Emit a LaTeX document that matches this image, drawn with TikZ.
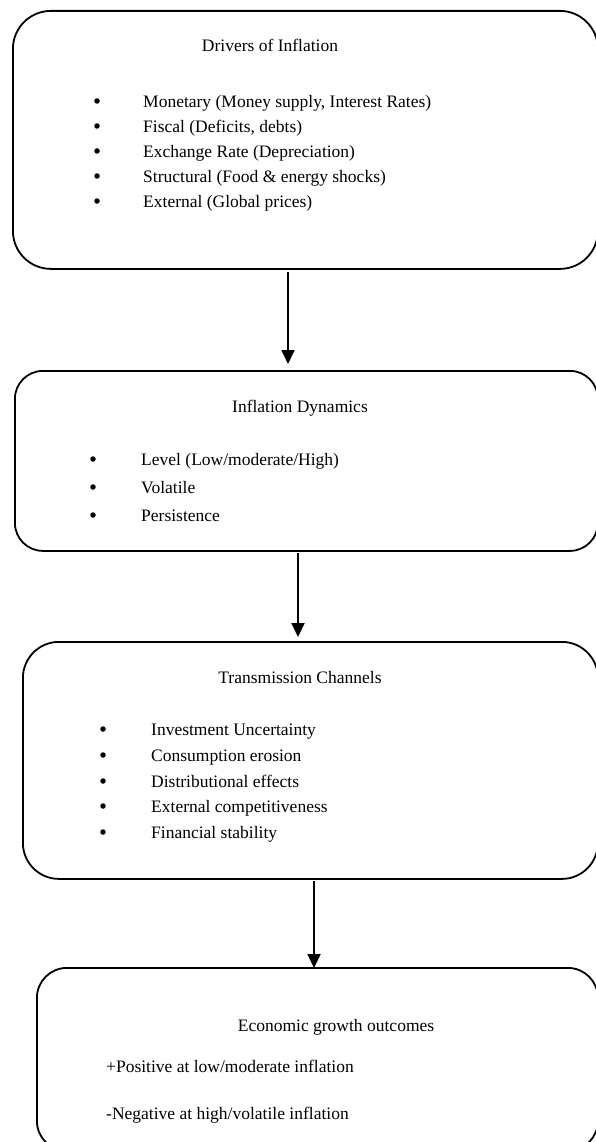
\documentclass[tikz,border=0pt]{standalone}
\usepackage{fontspec}
\setmainfont{Liberation Serif}
\usetikzlibrary{arrows.meta}
\begin{document}
\begin{tikzpicture}[x=1pt,y=-1pt,
  box/.style={draw, line width=1.8pt, rounded corners=#1, inner sep=0pt, anchor=north west},
  ttl/.style={font=\fontsize{17.5}{21}\selectfont, inner sep=0pt, text height=12pt, text depth=4pt, anchor=center, yshift=-3pt},
  itm/.style={font=\fontsize{17.5}{21}\selectfont, inner sep=0pt, text height=12pt, text depth=4pt, anchor=west, yshift=-2.5pt},
  bul/.style={circle, fill, inner sep=0pt, minimum size=5.5pt},
  arr/.style={line width=1.8pt, -{Triangle[width=13pt,length=14pt]}}
]
\clip (0,0) rectangle (596,1142);
% boxes
\node[box=38pt, minimum width=585pt, minimum height=258pt] (b1) at (12,10) {};
\node[box=28pt, minimum width=583pt, minimum height=180pt] (b2) at (14,370) {};
\node[box=36pt, minimum width=575pt, minimum height=237pt] (b3) at (22,641) {};
\node[box=30pt, minimum width=561pt, minimum height=183pt] (b4) at (36,967) {};
% box 1
\node[ttl] (t1) at (270,45) {Drivers of Inflation};
\foreach \y/\t [count=\i] in {101/{Monetary (Money supply, Interest Rates)},126/{Fiscal (Deficits, debts)},151/{Exchange Rate (Depreciation)},176/{Structural (Food \& energy shocks)},201/{External (Global prices)}}{
  \node[bul] (d\i) at (97,\y) {};
  \node[itm] (e\i) at (143,\y) {\t};
}
% box 2
\node[ttl] (t2) at (300,405) {Inflation Dynamics};
\foreach \y/\t [count=\i] in {459/{Level (Low/moderate/High)},487/{Volatile},515/{Persistence}}{
  \node[bul] (f\i) at (93,\y) {};
  \node[itm] (g\i) at (141,\y) {\t};
}
% box 3
\node[ttl] (t3) at (300,676) {Transmission Channels};
\foreach \y/\t [count=\i] in {729/{Investment Uncertainty},755/{Consumption erosion},781/{Distributional effects},806/{External competitiveness},832/{Financial stability}}{
  \node[bul] (h\i) at (103,\y) {};
  \node[itm] (k\i) at (151,\y) {\t};
}
% box 4
\node[ttl] (t4) at (336,1024) {Economic growth outcomes};
\node[itm] (p1) at (106,1066) {+Positive at low/moderate inflation};
\node[itm] (p2) at (106,1113) {-Negative at high/volatile inflation};
% arrows
\coordinate (a1s) at (288,272); \coordinate (a1e) at (288,364);
\coordinate (a2s) at (298,553); \coordinate (a2e) at (298,637);
\coordinate (a3s) at (314,881); \coordinate (a3e) at (314,968);
\draw[arr] (a1s) -- (a1e);
\draw[arr] (a2s) -- (a2e);
\draw[arr] (a3s) -- (a3e);
\end{tikzpicture}
\end{document}
